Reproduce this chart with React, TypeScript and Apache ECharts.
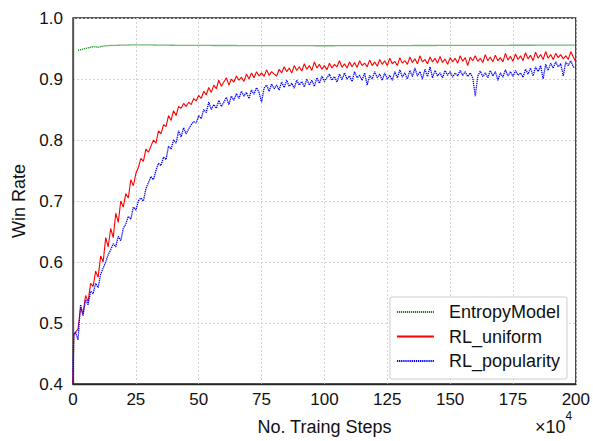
import React, { useEffect, useRef } from "react";
import * as echarts from "echarts";

// x axis: training steps (×10^4), y axis: win rate
const xTicks = [0, 25, 50, 75, 100, 125, 150, 175, 200];
const yTicks = [0.4, 0.5, 0.6, 0.7, 0.8, 0.9, 1.0];

// EntropyModel: [step, winRate]
const entropyModel: [number, number][] = [
  [2, 0.947], [4, 0.949], [6, 0.951], [8, 0.953], [10, 0.952], [12, 0.954],
  [15, 0.955], [20, 0.9555], [25, 0.956], [30, 0.956], [35, 0.9555], [40, 0.9553],
  [50, 0.955], [75, 0.9548], [100, 0.9545], [125, 0.9548], [150, 0.955],
  [175, 0.9553], [200, 0.9555],
];

// start of the RL curves (step 0 jump)
const rlStart: [number, number][] = [[0, 0.4], [0.3, 0.48]];

// RL_uniform win rate at steps 1..200
const rlUniform = [
  0.485, 0.49, 0.525, 0.515, 0.545, 0.535, 0.565, 0.56, 0.585, 0.575,
  0.61, 0.6, 0.64, 0.625, 0.655, 0.64, 0.68, 0.665, 0.7, 0.69,
  0.712, 0.705, 0.735, 0.725, 0.745, 0.755, 0.77, 0.765, 0.785, 0.78,
  0.79, 0.8, 0.795, 0.815, 0.81, 0.825, 0.822, 0.84, 0.832, 0.848,
  0.84, 0.855, 0.852, 0.86, 0.855, 0.862, 0.858, 0.868, 0.864, 0.873,
  0.868, 0.88, 0.874, 0.886, 0.878, 0.89, 0.884, 0.898, 0.888, 0.895,
  0.902, 0.89, 0.9, 0.895, 0.905, 0.898, 0.903, 0.896, 0.908, 0.9,
  0.91, 0.902, 0.912, 0.905, 0.91, 0.904, 0.915, 0.906, 0.912, 0.908,
  0.905, 0.916, 0.91, 0.92, 0.912, 0.918, 0.91, 0.922, 0.914, 0.92,
  0.913, 0.925, 0.916, 0.922, 0.914, 0.928, 0.918, 0.924, 0.916, 0.922,
  0.915, 0.926, 0.918, 0.924, 0.92, 0.93, 0.919, 0.925, 0.918, 0.928,
  0.92, 0.927, 0.919, 0.93, 0.922, 0.926, 0.92, 0.931, 0.922, 0.928,
  0.921, 0.932, 0.924, 0.93, 0.922, 0.934, 0.925, 0.929, 0.922, 0.935,
  0.926, 0.93, 0.924, 0.936, 0.927, 0.933, 0.925, 0.938, 0.928, 0.932,
  0.925, 0.936, 0.928, 0.934, 0.926, 0.937, 0.927, 0.933, 0.924, 0.935,
  0.928, 0.934, 0.926, 0.938, 0.929, 0.935, 0.922, 0.936, 0.93, 0.938,
  0.929, 0.934, 0.927, 0.94, 0.93, 0.936, 0.928, 0.939, 0.93, 0.935,
  0.928, 0.942, 0.931, 0.937, 0.929, 0.941, 0.932, 0.938, 0.93, 0.943,
  0.933, 0.939, 0.93, 0.944, 0.934, 0.94, 0.932, 0.945, 0.934, 0.94,
  0.932, 0.942, 0.935, 0.94, 0.933, 0.938, 0.932, 0.945, 0.936, 0.928,
];

// RL_popularity win rate at steps 1..200
const rlPopularity = [
  0.485, 0.472, 0.53, 0.512, 0.538, 0.53, 0.552, 0.548, 0.565, 0.558,
  0.58, 0.59, 0.6, 0.612, 0.62, 0.63, 0.625, 0.642, 0.635, 0.655,
  0.662, 0.675, 0.67, 0.69, 0.685, 0.7, 0.705, 0.7, 0.72, 0.73,
  0.74, 0.735, 0.75, 0.762, 0.758, 0.772, 0.768, 0.79, 0.785, 0.8,
  0.795, 0.815, 0.805, 0.82, 0.81, 0.818, 0.825, 0.83, 0.828, 0.84,
  0.835, 0.85, 0.845, 0.862, 0.85, 0.858, 0.852, 0.865, 0.855, 0.862,
  0.87, 0.858, 0.872, 0.865, 0.876, 0.868, 0.88, 0.872, 0.878, 0.868,
  0.882, 0.875, 0.886, 0.878, 0.862, 0.885, 0.89, 0.88, 0.892, 0.884,
  0.89, 0.882, 0.895, 0.886, 0.898, 0.888, 0.893, 0.885, 0.898, 0.89,
  0.896, 0.887, 0.9, 0.89, 0.898, 0.888, 0.902, 0.893, 0.905, 0.896,
  0.902, 0.908, 0.898, 0.904, 0.895, 0.908, 0.899, 0.91, 0.9, 0.905,
  0.896, 0.912, 0.902, 0.906, 0.898, 0.91, 0.89, 0.906, 0.9, 0.912,
  0.902, 0.908, 0.898, 0.91, 0.9, 0.906, 0.898, 0.912, 0.902, 0.915,
  0.903, 0.91, 0.9, 0.914, 0.904, 0.918, 0.905, 0.912, 0.9, 0.916,
  0.904, 0.92, 0.902, 0.914, 0.905, 0.91, 0.902, 0.914, 0.906, 0.912,
  0.903, 0.91, 0.905, 0.914, 0.906, 0.912, 0.904, 0.91, 0.902, 0.872,
  0.905, 0.913, 0.904, 0.91, 0.902, 0.914, 0.905, 0.912, 0.898, 0.91,
  0.903, 0.915, 0.905, 0.912, 0.904, 0.914, 0.906, 0.91, 0.903, 0.916,
  0.908, 0.918, 0.905, 0.92, 0.912, 0.922, 0.9, 0.924, 0.914, 0.926,
  0.918, 0.928, 0.92, 0.925, 0.905, 0.928, 0.922, 0.93, 0.92, 0.918,
];

const seriesNames = ["EntropyModel", "RL_uniform", "RL_popularity"];

const FONT = "'Liberation Sans', Arial, Helvetica, sans-serif";

export default function App() {
  const ref = useRef<HTMLDivElement>(null);
  useEffect(() => {
    if (!ref.current) return;
    const chart = echarts.init(ref.current, undefined, { renderer: "svg" });
    const withSteps = (vals: number[]) =>
      rlStart.concat(vals.map((v, i) => [i + 1, v] as [number, number]));
    chart.setOption({
      animation: false,
      backgroundColor: "#ffffff",
      textStyle: { fontFamily: FONT },
      grid: {
        left: 73,
        right: 16,
        top: 18,
        bottom: 53,
        show: true,
        borderColor: "#262626",
        borderWidth: 1.3,
        backgroundColor: "transparent",
      },
      legend: {
        data: seriesNames,
        orient: "vertical",
        right: 26,
        bottom: 62,
        itemWidth: 37,
        itemHeight: 14,
        itemGap: 4.5,
        padding: [5, 7, 8, 6],
        backgroundColor: "#ffffff",
        borderColor: "#cccccc",
        borderWidth: 1,
        borderRadius: 2,
        align: "left",
        itemStyle: { opacity: 0, borderWidth: 0 },
        textStyle: {
          fontSize: 18,
          color: "#111",
          fontFamily: FONT,
          lineHeight: 20,
          padding: [0, 0, 0, 10],
        },
      },
      xAxis: {
        type: "value",
        min: 0,
        max: 200,
        interval: 25,
        name: "No. Traing Steps",
        nameLocation: "middle",
        nameGap: 34,
        nameTextStyle: { fontSize: 18, color: "#111", fontFamily: FONT },
        axisLine: { show: true, lineStyle: { color: "#262626", width: 1.3 } },
        axisTick: { show: false },
        axisLabel: {
          fontSize: 17,
          color: "#111",
          margin: 7,
          fontFamily: FONT,
          formatter: (v: number) => (xTicks.includes(v) ? String(v) : ""),
        },
        splitLine: {
          show: true,
          lineStyle: { color: "#d4d4d4", type: [2, 2], width: 1 },
        },
      },
      yAxis: {
        type: "value",
        min: 0.4,
        max: 1.0,
        interval: 0.1,
        name: "Win Rate",
        nameLocation: "middle",
        nameGap: 39,
        nameTextStyle: { fontSize: 18, color: "#111", fontFamily: FONT },
        axisLine: { show: true, lineStyle: { color: "#555", width: 1.3 } },
        axisTick: { show: false },
        axisLabel: {
          fontSize: 17,
          color: "#111",
          margin: 10,
          fontFamily: FONT,
          formatter: (v: number) => {
            const s = v.toFixed(1);
            return yTicks.some((t) => t.toFixed(1) === s) ? s : "";
          },
        },
        splitLine: {
          show: true,
          lineStyle: { color: "#d4d4d4", type: [2, 2], width: 1 },
        },
      },
      graphic: [
        {
          type: "text",
          left: 535,
          top: 410,
          style: {
            text: "{a|×10}{s|4}",
            fontFamily: FONT,
            fill: "#111",
            rich: {
              a: { fontSize: 18, lineHeight: 26, verticalAlign: "bottom", fontFamily: FONT, fill: "#111" },
              s: { fontSize: 12, lineHeight: 12, verticalAlign: "top", fontFamily: FONT, fill: "#111" },
            },
          },
        },
      ],
      series: [
        {
          name: seriesNames[0],
          type: "line",
          data: entropyModel,
          symbol: "none",
          lineStyle: { color: "#118c11", width: 1.3, type: [1.2, 0.8] },
          itemStyle: { color: "#118c11" },
          z: 3,
        },
        {
          name: seriesNames[1],
          type: "line",
          data: withSteps(rlUniform),
          symbol: "none",
          lineStyle: { color: "#ff0000", width: 1.1 },
          itemStyle: { color: "#ff0000" },
          z: 2,
        },
        {
          name: seriesNames[2],
          type: "line",
          data: withSteps(rlPopularity),
          symbol: "none",
          lineStyle: { color: "#0000ff", width: 1.3, type: [1.3, 0.8] },
          itemStyle: { color: "#0000ff" },
          z: 4,
        },
      ],
    });
    return () => chart.dispose();
  }, []);
  return <div ref={ref} style={{ width: 593, height: 441, position: "absolute", left: 0, top: 0 }} />;
}
